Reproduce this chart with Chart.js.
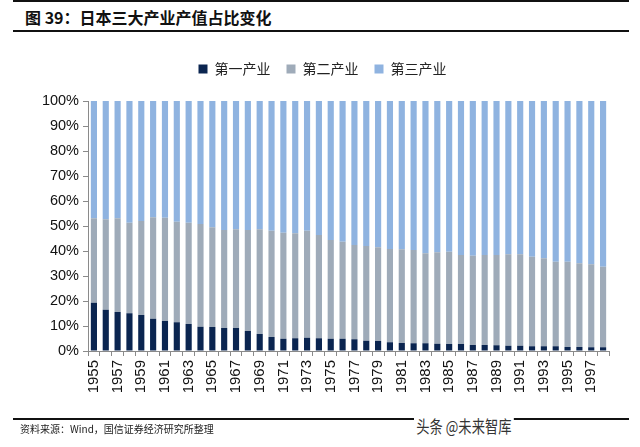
<!DOCTYPE html>
<html>
<head>
<meta charset="utf-8">
<script src="https://cdn.jsdelivr.net/npm/chart.js@4"></script>
<style>
  html, body { margin: 0; padding: 0; background: #fff; }
  #page { position: relative; width: 640px; height: 447px; overflow: hidden; }
  #chartBox { position: absolute; left: 0; top: 0; width: 640px; height: 447px; }
  .rule { position: absolute; left: 13px; width: 616px; height: 2px; background: #111; }
  #title { position: absolute; left: 25px; top: 5px; font: bold 16px "Noto Sans CJK SC", sans-serif; color: #111; }
  #source { position: absolute; left: 20px; top: 421px; font: 10px "Noto Sans CJK SC", sans-serif; color: #222; }
  #mark { position: absolute; left: 414px; top: 413px; padding: 0 3px; background: #fff; font: 17px "Noto Sans CJK SC", sans-serif; color: #333;
          transform: scaleX(0.78); transform-origin: left center; white-space: nowrap; }
</style>
</head>
<body>
<div id="page">
  <div class="rule" style="top:0px"></div>
  <div id="title">图 39：日本三大产业产值占比变化</div>
  <div class="rule" style="top:30px"></div>
  <div id="chartBox"><canvas id="c" width="640" height="447"></canvas></div>
  <div class="rule" style="top:418px"></div>
  <div id="source">资料来源：Wind，国信证券经济研究所整理</div>
  <div id="mark">头条 @未来智库</div>
</div>
<script>
// years 1955-1998, shares in %
const years = ['1955','1956','1957','1958','1959','1960','1961','1962','1963','1964','1965',
  '1966','1967','1968','1969','1970','1971','1972','1973','1974','1975','1976','1977','1978',
  '1979','1980','1981','1982','1983','1984','1985','1986','1987','1988','1989','1990','1991',
  '1992','1993','1994','1995','1996','1997','1998'];

const primary = [19.3, 16.5, 15.6, 15.1, 14.4, 12.9, 12.0, 11.5, 10.8, 9.7, 9.6,
  9.2, 9.2, 8.0, 6.8, 5.6, 4.9, 5.1, 5.3, 5.1, 4.9, 4.9, 4.7, 4.1,
  4.0, 3.5, 3.2, 3.1, 3.1, 2.9, 2.8, 2.8, 2.4, 2.4, 2.3, 2.1, 2.1,
  1.9, 1.9, 1.9, 1.6, 1.6, 1.5, 1.5];

const secondary = [33.8, 36.2, 37.5, 36.2, 37.6, 40.6, 41.3, 40.2, 40.5, 41.1, 39.9,
  39.2, 39.5, 40.4, 41.9, 42.5, 42.4, 42.0, 42.8, 41.3, 39.5, 38.8, 37.7, 37.9,
  37.5, 37.3, 37.5, 37.3, 36.0, 36.6, 36.9, 35.6, 35.7, 36.0, 36.1, 36.6, 36.6,
  35.8, 35.2, 33.8, 34.1, 33.5, 33.2, 32.2];

const tertiary = [46.9, 47.3, 46.9, 48.7, 48.0, 46.5, 46.7, 48.3, 48.7, 49.2, 50.5,
  51.6, 51.3, 51.6, 51.3, 51.9, 52.7, 52.9, 51.9, 53.6, 55.6, 56.3, 57.6, 58.0,
  58.5, 59.2, 59.3, 59.6, 60.9, 60.5, 60.3, 61.6, 61.9, 61.6, 61.6, 61.3, 61.3,
  62.3, 62.9, 64.3, 64.3, 64.9, 65.3, 66.3];

const yTicks = [0, 10, 20, 30, 40, 50, 60, 70, 80, 90, 100];

const fontFam = '"Liberation Sans", Arial, sans-serif';

// legend: extra gap below it, and nudge it right like the original
const legendGap = {
  id: 'legendGap',
  beforeInit(chart) {
    const origFit = chart.legend.fit;
    chart.legend.fit = function fit() {
      origFit.bind(chart.legend)();
      this.height += 15;
    };
  },
  afterLayout(chart) {
    chart.legend.left += 18;
    chart.legend.right += 18;
  }
};

function bar(label, data, color) {
  return {
    label: label,
    data: data,
    backgroundColor: color,
    borderWidth: 0,
    barPercentage: 0.52,
    categoryPercentage: 1.0
  };
}

new Chart(document.getElementById('c'), {
  type: 'bar',
  data: {
    labels: years,
    datasets: [
      bar('第一产业', primary, '#0b2550'),
      bar('第二产业', secondary, '#9fabb9'),
      bar('第三产业', tertiary, '#8fb3e0')
    ]
  },
  options: {
    responsive: false,
    animation: false,
    devicePixelRatio: 1,
    layout: { padding: { top: 46, left: 0, right: 31, bottom: 46 } },
    plugins: {
      legend: {
        position: 'top',
        labels: {
          boxWidth: 9,
          boxHeight: 9,
          padding: 16,
          color: '#222',
          font: { family: '"Noto Sans CJK SC", sans-serif', size: 14 }
        }
      },
      tooltip: { enabled: false }
    },
    scales: {
      x: {
        stacked: true,
        afterFit(scale) { scale.height = 50; },
        border: { display: true, color: '#8a8a8a', width: 1 },
        grid: { display: true, drawOnChartArea: false, drawTicks: true, tickLength: 5, color: '#8a8a8a', offset: true },
        ticks: {
          autoSkip: false,
          minRotation: 90,
          maxRotation: 90,
          padding: 4,
          color: '#111',
          font: { family: fontFam, size: 15 },
          callback: function (v, i) { return i % 2 === 0 ? years[i] : ''; }
        }
      },
      y: {
        stacked: true,
        min: 0,
        max: 100,
        afterFit(scale) { scale.width = 88; },
        afterBuildTicks(scale) { scale.ticks = yTicks.map(v => ({ value: v })); },
        border: { display: true, color: '#8a8a8a', width: 1 },
        grid: { display: true, drawOnChartArea: false, drawTicks: true, tickLength: 5, color: '#8a8a8a' },
        ticks: {
          padding: 4,
          color: '#111',
          font: { family: fontFam, size: 14.5 },
          callback: function (v) { return v + '%'; }
        }
      }
    }
  },
  plugins: [legendGap]
});
</script>
</body>
</html>
